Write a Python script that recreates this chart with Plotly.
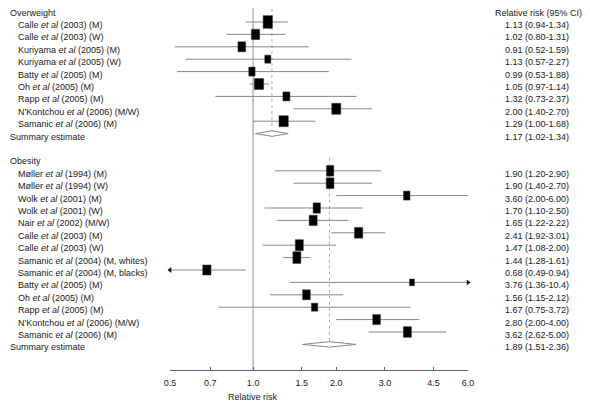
import math
import plotly.graph_objects as go

# ---------------- data ----------------
ow_labels = ["Calle <i>et al</i> (2003) (M)", "Calle <i>et al</i> (2003) (W)",
             "Kuriyama <i>et al</i> (2005) (M)", "Kuriyama <i>et al</i> (2005) (W)",
             "Batty <i>et al</i> (2005) (M)", "Oh <i>et al</i> (2005) (M)",
             "Rapp <i>et al</i> (2005) (M)", "N'Kontchou <i>et al</i> (2006) (M/W)",
             "Samanic <i>et al</i> (2006) (M)"]
ow_rr = [1.13, 1.02, 0.91, 1.13, 0.99, 1.05, 1.32, 2.00, 1.29]
ow_lo = [0.94, 0.80, 0.52, 0.57, 0.53, 0.97, 0.73, 1.40, 1.00]
ow_hi = [1.34, 1.31, 1.59, 2.27, 1.88, 1.14, 2.37, 2.70, 1.68]
ow_summary = [1.17, 1.02, 1.34]

ob_labels = ["Møller <i>et al</i> (1994) (M)", "Møller <i>et al</i> (1994) (W)",
             "Wolk <i>et al</i> (2001) (M)", "Wolk <i>et al</i> (2001) (W)",
             "Nair <i>et al</i> (2002) (M/W)", "Calle <i>et al</i> (2003) (M)",
             "Calle <i>et al</i> (2003) (W)", "Samanic <i>et al</i> (2004) (M, whites)",
             "Samanic <i>et al</i> (2004) (M, blacks)", "Batty <i>et al</i> (2005) (M)",
             "Oh <i>et al</i> (2005) (M)", "Rapp <i>et al</i> (2005) (M)",
             "N'Kontchou <i>et al</i> (2006) (M/W)", "Samanic <i>et al</i> (2006) (M)"]
ob_rr = [1.90, 1.90, 3.60, 1.70, 1.65, 2.41, 1.47, 1.44, 0.68, 3.76, 1.56, 1.67, 2.80, 3.62]
ob_lo = [1.20, 1.40, 2.00, 1.10, 1.22, 1.92, 1.08, 1.28, 0.49, 1.36, 1.15, 0.75, 2.00, 2.62]
ob_hi = [2.90, 2.70, 6.00, 2.50, 2.22, 3.01, 2.00, 1.61, 0.94, 10.4, 2.12, 3.72, 4.00, 5.00]
ob_summary = [1.89, 1.51, 2.36]

tick_vals = [0.5, 0.7, 1.0, 1.5, 2.0, 3.0, 4.5, 6.0]
tick_text = ["0.5", "0.7", "1.0", "1.5", "2.0", "3.0", "4.5", "6.0"]

# box sizes (pixels) as drawn in the reference
ow_box_w = [9.3, 8.3, 7.7, 6, 6.3, 9.3, 7, 9, 9.3]
ow_box_h = [12.7, 10.3, 10, 8, 9, 11, 9, 11, 11]
ob_box_w = [7.3, 7.7, 6.5, 7.3, 8, 8.3, 8, 8, 8.3, 5, 7.7, 6.3, 7.7, 8]
ob_box_h = [10.7, 10.7, 9, 10.3, 10.3, 10.7, 11, 11.7, 10, 6.7, 10, 8, 10, 10.7]

# ---------------- layout constants ----------------
PAGE_MARGIN = 8                      # default body margin of the html page
W, H = 590 - PAGE_MARGIN, 408 - PAGE_MARGIN
X_MIN, X_MAX = 0.5, 6.0
PLOT_L, PLOT_R = 170 - PAGE_MARGIN, 468 - PAGE_MARGIN
AXIS_Y = 370 - PAGE_MARGIN
ROW0_PX, ROW_PX = 9.6 - PAGE_MARGIN, 12.4
FONT = "Liberation Sans, Arial, sans-serif"
TXT = "#1a1a1a"

y_top = -ROW0_PX / ROW_PX
y_bot = (AXIS_Y - ROW0_PX) / ROW_PX
px_per_decade = (PLOT_R - PLOT_L) / (math.log10(X_MAX) - math.log10(X_MIN))


def px_to_paper(px):
    return (px - PAGE_MARGIN - PLOT_L) / (PLOT_R - PLOT_L)


def fmt(v):
    return f"{v:.1f}" if v >= 10 else f"{v:.2f}"


# row indices
ow_hdr = 0
ow_rows = list(range(1, 1 + len(ow_rr)))
ow_sum_row = ow_rows[-1] + 1
ob_hdr = ow_sum_row + 2
ob_rows = list(range(ob_hdr + 1, ob_hdr + 1 + len(ob_rr)))
ob_sum_row = ob_rows[-1] + 1

fig = go.Figure()
shapes = []
annotations = []

# reference line at 1.0
shapes.append(dict(type="line", xref="x", yref="y", x0=1.0, x1=1.0, y0=-0.3, y1=y_bot,
                   line=dict(color="#c4c4c4", width=2), layer="below"))
# dotted summary lines
for s, r0, r1 in [(ow_summary, ow_hdr, ow_sum_row), (ob_summary, ob_hdr, ob_sum_row)]:
    shapes.append(dict(type="line", xref="x", yref="y", x0=s[0], x1=s[0], y0=r0 - 0.05, y1=r1 + 0.3,
                       line=dict(color="#aaaaaa", width=1, dash="dot"), layer="below"))

# CI lines
ci_x, ci_y = [], []
for lo_l, hi_l, rows in [(ow_lo, ow_hi, ow_rows), (ob_lo, ob_hi, ob_rows)]:
    for lo, hi, r in zip(lo_l, hi_l, rows):
        ci_x += [lo, hi, None]
        ci_y += [r, r, None]
fig.add_trace(go.Scatter(x=ci_x, y=ci_y, mode="lines", line=dict(color="#888888", width=1),
                         hoverinfo="skip", showlegend=False))

# arrows for CIs beyond the axis range
ax_x, ax_y, ax_sym = [], [], []
for lo_l, hi_l, rows in [(ow_lo, ow_hi, ow_rows), (ob_lo, ob_hi, ob_rows)]:
    for lo, hi, r in zip(lo_l, hi_l, rows):
        if lo < X_MIN:
            ax_x.append(X_MIN); ax_y.append(r); ax_sym.append("triangle-left")
        if hi > X_MAX:
            ax_x.append(X_MAX); ax_y.append(r); ax_sym.append("triangle-right")
fig.add_trace(go.Scatter(x=ax_x, y=ax_y, mode="markers", cliponaxis=False,
                         marker=dict(symbol=ax_sym, size=5, color="#111111", line=dict(width=0)),
                         hoverinfo="skip", showlegend=False))

# boxes (data-anchored rectangles)
for rr_l, rows, bw, bh in [(ow_rr, ow_rows, ow_box_w, ow_box_h), (ob_rr, ob_rows, ob_box_w, ob_box_h)]:
    for rr, r, w, h in zip(rr_l, rows, bw, bh):
        f = 10 ** (w / 2 / px_per_decade)
        shapes.append(dict(type="rect", xref="x", yref="y", ysizemode="pixel",
                           yanchor=r, x0=rr / f, x1=rr * f, y0=-h / 2, y1=h / 2,
                           fillcolor="#000000", line=dict(color="#333333", width=0.5), layer="above"))

# summary diamonds
for s, r in [(ow_summary, ow_sum_row), (ob_summary, ob_sum_row)]:
    fig.add_trace(go.Scatter(x=[s[1], s[0], s[2], s[0], s[1]], y=[r, r - 0.22, r, r + 0.22, r],
                             mode="lines", fill="toself", fillcolor="white",
                             line=dict(color="#888888", width=1), hoverinfo="skip", showlegend=False))


# text
def add_text(x_px, row, text, xanchor="left"):
    annotations.append(dict(xref="paper", yref="y", x=px_to_paper(x_px), y=row, text=text,
                            showarrow=False, xanchor=xanchor, yanchor="middle", yshift=-3,
                            font=dict(family=FONT, size=9, color=TXT)))


RIGHT_X = 537
add_text(8, ow_hdr, "Overweight")
add_text(RIGHT_X + 1, ow_hdr, "Relative risk (95% CI)", "center")
for lab, rr, lo, hi, r in zip(ow_labels, ow_rr, ow_lo, ow_hi, ow_rows):
    add_text(16, r, lab)
    add_text(RIGHT_X, r, f"{fmt(rr)} ({fmt(lo)}-{fmt(hi)})", "center")
add_text(8, ow_sum_row, "Summary estimate")
add_text(RIGHT_X, ow_sum_row, f"{fmt(ow_summary[0])} ({fmt(ow_summary[1])}-{fmt(ow_summary[2])})", "center")

add_text(8, ob_hdr, "Obesity")
for lab, rr, lo, hi, r in zip(ob_labels, ob_rr, ob_lo, ob_hi, ob_rows):
    add_text(16, r, lab)
    add_text(RIGHT_X, r, f"{fmt(rr)} ({fmt(lo)}-{fmt(hi)})", "center")
add_text(8, ob_sum_row, "Summary estimate")
add_text(RIGHT_X, ob_sum_row, f"{fmt(ob_summary[0])} ({fmt(ob_summary[1])}-{fmt(ob_summary[2])})", "center")

# x-axis title under 1.0
annotations.append(dict(xref="x", yref="paper", x=math.log10(1.0), y=0, yshift=-27,
                        text="Relative risk", showarrow=False, xanchor="center", yanchor="middle",
                        font=dict(family=FONT, size=9, color=TXT)))

fig.update_layout(
    width=W, height=H,
    margin=dict(l=PLOT_L, r=W - PLOT_R, t=0, b=H - AXIS_Y, pad=0),
    paper_bgcolor="white", plot_bgcolor="white",
    showlegend=False,
    shapes=shapes, annotations=annotations,
    xaxis=dict(type="log", range=[math.log10(X_MIN), math.log10(X_MAX)],
               tickvals=tick_vals, ticktext=tick_text, ticks="inside", ticklen=3,
               tickcolor="#666666", showline=True, linecolor="#666666", linewidth=1,
               showgrid=False, zeroline=False, ticklabelstandoff=4,
               tickfont=dict(family=FONT, size=9, color=TXT)),
    yaxis=dict(range=[y_bot, y_top], visible=False, showgrid=False, zeroline=False),
)

fig.write_html("out.html")
